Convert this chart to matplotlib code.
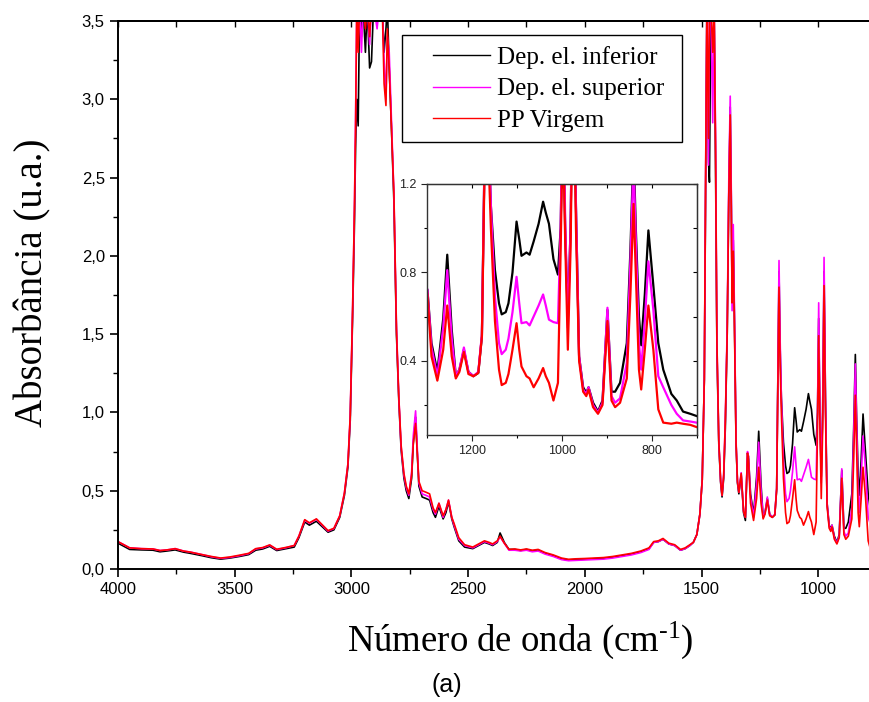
import matplotlib
matplotlib.use('Agg')
import matplotlib.pyplot as plt
from matplotlib.patches import Rectangle
from matplotlib.ticker import MultipleLocator, FixedLocator, FuncFormatter

# wavenumber grid (cm-1) and absorbance
wavenumber = [
    4000, 3975, 3950, 3900, 3850, 3820, 3790, 3755, 3720, 3690,
    3640, 3600, 3560, 3520, 3480, 3440, 3410, 3380, 3350, 3320,
    3280, 3245, 3225, 3200, 3180, 3150, 3125, 3100, 3075, 3050,
    3030, 3015, 3005, 2995, 2987, 2982, 2977, 2971, 2965, 2957,
    2950, 2940, 2932, 2922, 2914, 2905, 2890, 2880, 2868, 2860,
    2852, 2846, 2838, 2828, 2818, 2807, 2797, 2787, 2775, 2765,
    2754, 2742, 2735, 2725, 2718, 2711, 2697, 2680, 2665, 2650,
    2640, 2625, 2607, 2595, 2584, 2570, 2560, 2540, 2515, 2480,
    2455, 2430, 2410, 2395, 2375, 2363, 2345, 2325, 2300, 2275,
    2250, 2225, 2200, 2170, 2135, 2100, 2070, 2040, 2000, 1960,
    1920, 1880, 1840, 1800, 1760, 1725, 1705, 1685, 1665, 1640,
    1615, 1590, 1570, 1550, 1535, 1520, 1507, 1497, 1488, 1482,
    1477, 1470, 1466, 1460, 1452, 1446, 1440, 1434, 1426, 1418,
    1412, 1405, 1398, 1390, 1383, 1377, 1372, 1369, 1364, 1359,
    1352, 1346, 1340, 1330, 1320, 1312, 1303, 1299, 1290, 1277,
    1264, 1255, 1245, 1236, 1228, 1218, 1208, 1197, 1186, 1178,
    1173, 1168, 1163, 1158, 1149, 1140, 1134, 1125, 1119, 1110,
    1101, 1095, 1090, 1079, 1072, 1063, 1052, 1042, 1036, 1029,
    1019, 1009, 1003, 998, 993, 987, 981, 975, 969, 962,
    953, 946, 941, 931, 920, 910, 899, 890, 882, 871,
    856, 848, 841, 836, 829, 824, 816, 808, 797, 786,
    775, 757, 745, 731, 715, 701,
]

abs_inferior = [
    .165, .145, .125, .122, .120, .110, .115, .122, .108, .100,
    .085, .072, .063, .070, .080, .092, .120, .128, .145, .118,
    .130, .140, .200, .300, .280, .305, .270, .235, .250, .330,
    .470, .650, .950, 1.60, 2.20, 2.70, 3.00, 2.83, 3.60, 3.40,
    3.60, 3.30, 3.60, 3.20, 3.24, 3.60, 3.60, 3.60, 3.60, 3.30,
    3.45, 3.60, 3.20, 2.80, 2.35, 1.50, 1.08, .76, .58, .50,
    .45, .58, .80, .97, .75, .53, .46, .45, .44, .36,
    .33, .40, .32, .36, .43, .32, .27, .18, .14, .13,
    .15, .17, .16, .15, .17, .23, .17, .125, .125, .118,
    .125, .115, .12, .10, .085, .065, .058, .06, .062, .065,
    .068, .075, .085, .095, .11, .13, .17, .175, .19, .16,
    .15, .12, .13, .15, .17, .22, .35, .57, 1.21, 2.50,
    3.60, 2.60, 2.47, 3.60, 3.60, 3.60, 2.60, 1.40, .80, .55,
    .46, .58, .90, 1.50, 2.40, 2.95, 2.30, 1.70, 2.10, 1.60,
    .80, .55, .48, .60, .36, .31, .74, .72, .48, .35,
    .59, .88, .54, .33, .36, .45, .35, .33, .345, .51,
    1.20, 1.90, 1.40, 1.10, .81, .66, .61, .62, .66, .80,
    1.03, .95, .875, .89, .88, .94, 1.02, 1.12, 1.07, 1.02,
    .86, .79, 1.00, 1.60, 1.00, .59, 1.00, 1.90, 1.10, .42,
    .28, .255, .28, .21, .17, .22, .63, .26, .26, .30,
    .48, .90, 1.37, 1.00, .60, .47, .70, .99, .74, .48,
    .36, .25, .22, .17, .16, .15,
]

abs_superior = [
    .175, .155, .135, .130, .128, .118, .122, .130, .115, .108,
    .092, .078, .068, .074, .085, .098, .128, .135, .152, .124,
    .136, .150, .210, .312, .292, .318, .280, .242, .258, .340,
    .485, .670, .980, 1.65, 2.30, 2.90, 3.60, 3.35, 3.60, 3.30,
    3.60, 3.50, 3.60, 3.35, 3.60, 3.60, 3.45, 3.60, 3.60, 3.25,
    3.00, 3.40, 3.30, 2.85, 2.40, 1.55, 1.10, .78, .60, .52,
    .47, .62, .85, 1.01, .78, .55, .48, .47, .46, .38,
    .35, .42, .33, .38, .44, .33, .28, .19, .15, .135,
    .155, .175, .165, .155, .175, .205, .165, .12, .12, .115,
    .12, .11, .115, .095, .08, .06, .053, .055, .057, .06,
    .063, .07, .08, .09, .105, .125, .17, .175, .19, .16,
    .15, .12, .13, .15, .17, .22, .35, .57, 1.21, 2.60,
    3.60, 2.58, 3.60, 3.60, 2.85, 3.60, 2.80, 1.45, .82, .56,
    .47, .60, .95, 1.55, 2.50, 3.02, 2.35, 1.65, 2.20, 1.65,
    .82, .56, .49, .615, .37, .33, .75, .72, .46, .33,
    .55, .81, .50, .33, .36, .46, .35, .33, .35, .52,
    1.20, 1.97, 1.45, 1.10, .69, .48, .43, .45, .50, .62,
    .78, .66, .57, .575, .56, .60, .65, .70, .65, .586,
    .575, .57, 1.00, 1.70, 1.05, .55, 1.00, 1.99, 1.10, .42,
    .27, .25, .28, .20, .165, .21, .64, .24, .21, .23,
    .39, .85, 1.31, .95, .48, .36, .58, .85, .63, .33,
    .28, .20, .16, .13, .125, .12,
]

abs_virgem = [
    .175, .155, .135, .130, .128, .118, .122, .130, .115, .108,
    .092, .080, .070, .077, .088, .100, .130, .137, .154, .126,
    .138, .150, .210, .315, .295, .320, .282, .245, .260, .340,
    .485, .670, .980, 1.65, 2.30, 2.85, 3.60, 3.30, 3.60, 3.60,
    3.60, 3.45, 3.60, 3.40, 3.60, 3.60, 3.50, 3.60, 3.60, 3.10,
    2.96, 3.45, 3.20, 2.80, 2.40, 1.53, 1.10, .79, .61, .53,
    .48, .60, .80, .93, .75, .56, .50, .49, .48, .39,
    .36, .42, .34, .38, .44, .33, .29, .20, .155, .14,
    .16, .18, .17, .16, .18, .21, .165, .125, .128, .122,
    .128, .12, .125, .105, .09, .07, .062, .065, .067, .07,
    .073, .08, .09, .10, .115, .135, .175, .18, .195, .165,
    .155, .125, .135, .155, .17, .22, .35, .57, 1.21, 2.60,
    3.60, 2.75, 3.60, 3.60, 3.30, 3.60, 2.70, 1.45, .82, .56,
    .47, .60, .95, 1.50, 2.40, 2.90, 2.20, 1.70, 2.03, 1.55,
    .80, .56, .49, .61, .37, .33, .74, .70, .42, .31,
    .45, .65, .42, .32, .35, .44, .34, .33, .345, .51,
    1.15, 1.80, 1.30, 1.00, .58, .36, .29, .30, .34, .45,
    .57, .45, .374, .33, .32, .28, .32, .367, .33, .30,
    .22, .30, .90, 1.49, .95, .45, .90, 1.81, 1.00, .40,
    .26, .24, .27, .19, .16, .20, .58, .22, .19, .21,
    .32, .70, 1.11, .80, .36, .27, .45, .65, .45, .18,
    .12, .115, .12, .115, .11, .10,
]

labels = ['Dep. el. inferior', 'Dep. el. superior', 'PP Virgem']
colors = ['#000000', '#ff00ff', '#ff0000']
series = [abs_inferior, abs_superior, abs_virgem]

plt.rcParams['mathtext.fontset'] = 'custom'
plt.rcParams['mathtext.rm'] = 'Liberation Serif'
plt.rcParams['mathtext.it'] = 'Liberation Serif:italic'

W, H = 869, 702
fig = plt.figure(figsize=(W / 100, H / 100), dpi=100)

# main axes
ax = fig.add_axes([118 / W, 1 - 569 / H, 1 - 118 / W + 0.002, 548 / H])
lines = []
for y, lab, c in zip(series, labels, colors):
    ln, = ax.plot(wavenumber, y, color=c, lw=1.2, label=lab)
    lines.append(ln)

ax.set_xlim(4000, 775)
ax.set_ylim(0, 3.5)
ax.xaxis.set_major_locator(MultipleLocator(500))
ax.xaxis.set_minor_locator(MultipleLocator(250))
ax.yaxis.set_major_locator(MultipleLocator(0.5))
ax.yaxis.set_minor_locator(MultipleLocator(0.25))
ax.yaxis.set_major_formatter(FuncFormatter(lambda v, p: f'{v:.1f}'.replace('.', ',')))
ax.tick_params(which='major', direction='out', length=6, width=1.2, labelsize=12)
ax.tick_params(which='minor', direction='out', length=3.5, width=1.0)
for lbl in ax.get_xticklabels() + ax.get_yticklabels():
    lbl.set_fontfamily('Liberation Sans')
for s in ['left', 'bottom', 'top']:
    ax.spines[s].set_linewidth(1.4)
ax.spines['right'].set_visible(False)

top = ax.secondary_xaxis('top')
top.xaxis.set_major_locator(MultipleLocator(500))
top.xaxis.set_minor_locator(MultipleLocator(250))
top.tick_params(which='both', direction='in', labeltop=False, length=4, width=1.0)
top.spines['top'].set_linewidth(1.4)

# legend box drawn separately so the handles sit further inside it
box = Rectangle((402 / W, 1 - 142 / H), 280 / W, 107 / H, transform=fig.transFigure,
                facecolor='white', edgecolor='black', lw=1.0, zorder=4)
fig.patches.append(box)
leg = fig.legend(lines, labels, loc='upper left', bbox_to_anchor=(433 / W, 1 - 46 / H),
                 frameon=False, prop={'family': 'Liberation Serif', 'size': 18},
                 handlelength=2.28, handletextpad=0.28, borderpad=0,
                 labelspacing=0.36, borderaxespad=0)
leg.set_zorder(5)
for h in leg.legend_handles:
    h.set_linewidth(1.0)

fig.text(33 / W, 1 - 283 / H, 'Absorbância (u.a.)', rotation=90,
         ha='center', va='center', fontsize=28, family='Liberation Serif')
fig.text(520 / W, 1 - 640 / H, 'Número de onda (cm$^{\u2010 1}$)',
         ha='center', va='center', fontsize=26.5, family='Liberation Serif')
fig.text(447 / W, 1 - 685 / H, '(a)', ha='center', va='center',
         fontsize=18, family='Liberation Sans')

# inset
axin = fig.add_axes([427 / W, 1 - 435 / H, 270 / W, 251 / H])
for y, c in zip(series, colors):
    axin.plot(wavenumber, y, color=c, lw=1.6)
axin.set_xlim(1300, 700)
axin.set_ylim(0.064, 1.2)
axin.xaxis.set_major_locator(FixedLocator([1200, 1000, 800]))
axin.xaxis.set_minor_locator(MultipleLocator(100))
axin.yaxis.set_major_locator(FixedLocator([0.4, 0.8, 1.2]))
axin.yaxis.set_minor_locator(MultipleLocator(0.2))
axin.tick_params(which='major', direction='out', length=4, width=0.8, labelsize=9, colors='#222222')
axin.tick_params(which='minor', direction='out', length=2.5, width=0.8)
for lbl in axin.get_xticklabels() + axin.get_yticklabels():
    lbl.set_fontfamily('Liberation Sans')
for s in axin.spines.values():
    s.set_linewidth(1.0)
    s.set_color('#333333')

intop = axin.secondary_xaxis('top')
intop.xaxis.set_major_locator(MultipleLocator(100))
intop.tick_params(which='both', direction='in', labeltop=False, length=3, width=0.8)
inright = axin.secondary_yaxis('right')
inright.yaxis.set_major_locator(MultipleLocator(0.2))
inright.tick_params(which='both', direction='in', labelright=False, length=3, width=0.8)

fig.savefig('out.png', dpi=100)
